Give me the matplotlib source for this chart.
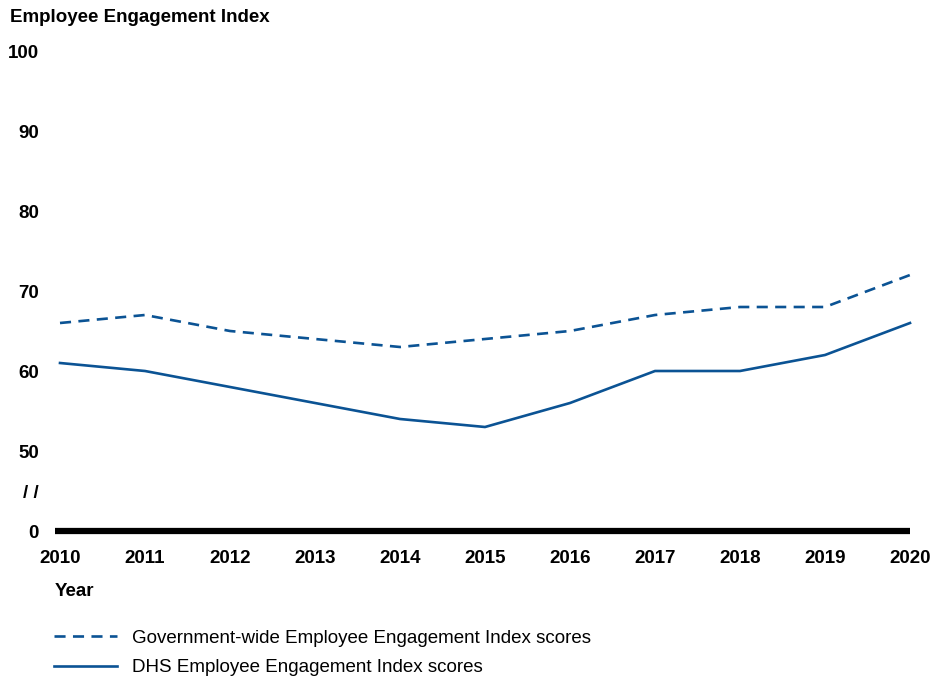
import numpy as np
import matplotlib
matplotlib.use("Agg")
import matplotlib.pyplot as plt
from matplotlib.lines import Line2D

# ── data ─────────────────────────────────────────────────────────────
years = [2010, 2011, 2012, 2013, 2014, 2015, 2016, 2017, 2018, 2019, 2020]
gov_wide = [66, 67, 65, 64, 63, 64, 65, 67, 68, 68, 72]
dhs = [61, 60, 58, 56, 54, 53, 56, 60, 60, 62, 66]

ytick_vals = [0, 50, 60, 70, 80, 90, 100]
ytick_labels = ["0", "50", "60", "70", "80", "90", "100"]
break_label = "/ /"

BLUE = "#0B5394"

plt.rcParams["font.family"] = ["Liberation Sans", "DejaVu Sans"]

# broken axis: 0..50 squeezed into one 10-unit band
def squash(v):
    v = np.asarray(v, dtype=float)
    return np.where(v >= 50, v, 40 + v * 10 / 50)

W, H = 934, 677
fig = plt.figure(figsize=(W / 100, H / 100), dpi=100)
ax = fig.add_axes([55 / W, (H - 531) / H, (910 - 55) / W, (531 - 51) / H])

ax.plot(years, squash(gov_wide), color=BLUE, lw=1.9, ls=(0, (4.2, 2.8)), clip_on=False)
ax.plot(years, squash(dhs), color=BLUE, lw=1.9, clip_on=False)
ax.axhline(squash(0), color="black", lw=4.5, clip_on=False, solid_capstyle="butt")

ax.set_xlim(2010 - 5 / 85, 2020)
ax.set_ylim(40, 100)

yt = list(squash(ytick_vals)) + [45]
yl = ytick_labels + [break_label]
ax.set_yticks(yt)
ax.set_yticklabels(yl, fontsize=13.5, fontweight="bold")
ax.set_xticks(years)
ax.set_xticklabels([str(y) for y in years], fontsize=13.5, fontweight="bold")
ax.tick_params(axis="y", length=0, pad=11.5)
ax.tick_params(axis="x", length=0, pad=14)
for s in ax.spines.values():
    s.set_visible(False)

fig.text(10 / W, 1 - 18 / H, "Employee Engagement Index", fontsize=13.5,
         fontweight="bold", ha="left", va="center")
fig.text(55 / W, 1 - 591 / H, "Year", fontsize=13.5, fontweight="bold",
         ha="left", va="center")

handles = [
    Line2D([], [], color=BLUE, lw=1.9, ls=(0, (4.2, 2.8))),
    Line2D([], [], color=BLUE, lw=1.9),
]
labels = ["Government-wide Employee Engagement Index scores",
          "DHS Employee Engagement Index scores"]
fig.legend(handles, labels, loc="upper left", bbox_to_anchor=(48 / W, 1 - 624 / H),
           frameon=False, fontsize=13.5, handlelength=3.4, handletextpad=0.8,
           labelspacing=0.66, borderaxespad=0, borderpad=0.3)

fig.savefig("out.png", dpi=100)
